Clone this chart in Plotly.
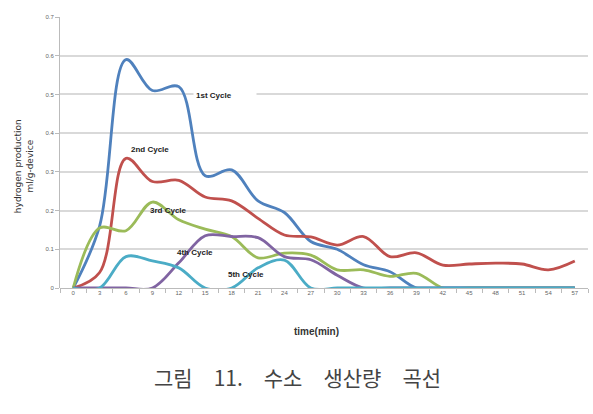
import plotly.graph_objects as go

time_min = [0, 3, 6, 9, 12, 15, 18, 21, 24, 27, 30, 33, 36, 39, 42, 45, 48, 51, 54, 57]
cycle1 = [0, 0.16, 0.59, 0.51, 0.52, 0.29, 0.305, 0.225, 0.195, 0.12, 0.1, 0.06, 0.042, 0, 0, 0, 0, 0, 0, 0]
cycle2 = [0, 0.04, 0.335, 0.275, 0.278, 0.235, 0.225, 0.18, 0.137, 0.132, 0.111, 0.133, 0.081, 0.091, 0.059, 0.062, 0.064, 0.062, 0.047, 0.07]
cycle3 = [0, 0.155, 0.148, 0.222, 0.176, 0.152, 0.133, 0.078, 0.09, 0.085, 0.047, 0.047, 0.03, 0.038, 0, 0, 0, 0, 0, 0]
cycle4 = [0, 0, 0, 0, 0.065, 0.135, 0.133, 0.13, 0.081, 0.073, 0.033, 0, 0, 0, 0, 0, 0, 0, 0, 0]
cycle5 = [0, 0, 0.081, 0.07, 0.052, 0, 0, 0.052, 0.072, 0, 0, 0, 0, 0, 0, 0, 0, 0, 0, 0]

names = ["1st Cycle", "2nd Cycle", "3rd Cycle", "4th Cycle", "5th Cycle"]
colors = ["#4F81BD", "#C0504D", "#9BBB59", "#8064A2", "#4BACC6"]
series = [cycle1, cycle2, cycle3, cycle4, cycle5]

y_ticks = [0, 0.1, 0.2, 0.3, 0.4, 0.5, 0.6, 0.7]
y_tick_text = ["0", "0.1", "0.2", "0.3", "0.4", "0.5", "0.6", "0.7"]

fig = go.Figure()
for name, col, vals in zip(names, colors, series):
    fig.add_trace(go.Scatter(
        x=time_min, y=vals, mode="lines", name=name,
        line=dict(color=col, width=2.8, shape="spline", smoothing=1.0),
        cliponaxis=False,
    ))

label_font = dict(family="Liberation Sans Narrow, Arial Narrow, sans-serif", size=8, color="#222")
# 1st Cycle label sits in a white box that interrupts the 0.5 gridline
fig.add_annotation(
    x=13.6, y=0.496, xanchor="left", yanchor="middle", text="<b>1st Cycle</b>",
    showarrow=False, font=label_font, bgcolor="white", width=58, align="left", borderpad=2,
)
labels = [
    ("2nd Cycle", 8.7, 0.357),
    ("3rd Cycle", 10.8, 0.2),
    ("4th Cycle", 13.8, 0.093),
    ("5th Cycle", 19.6, 0.036),
]
for txt, lx, ly in labels:
    fig.add_annotation(
        x=lx, y=ly, text="<b>" + txt + "</b>", showarrow=False,
        xanchor="center", yanchor="middle", font=label_font,
    )

fig.add_annotation(
    xref="paper", yref="paper", x=-0.068, y=0.45, xanchor="center", yanchor="middle",
    text="hydrogen production<br>ml/g-device", textangle=-90, showarrow=False,
    font=dict(family="DejaVu Sans, sans-serif", size=9, color="#333"),
)
fig.add_annotation(
    xref="paper", yref="paper", x=0.485, y=-0.162, xanchor="center", yanchor="middle",
    text="<b>time(min)</b>", showarrow=False,
    font=dict(family="Liberation Sans Narrow, Arial Narrow, sans-serif", size=10, color="#333"),
)
fig.add_annotation(
    xref="paper", yref="paper", x=0.45, y=-0.33, xanchor="center", yanchor="middle",
    text="그림\u300011.\u3000수소\u3000생산량\u3000곡선", showarrow=False,
    font=dict(family="Noto Sans CJK KR", size=21, color="#444"),
)

fig.update_layout(
    width=593, height=414,
    margin=dict(l=60, r=5, t=17, b=126),
    paper_bgcolor="white", plot_bgcolor="white",
    showlegend=False,
    xaxis=dict(
        range=[-1.5, 58.5], tickvals=time_min, ticktext=[str(t) for t in time_min],
        ticks="", showgrid=False, zeroline=False,
        showline=False,
        tickfont=dict(family="Liberation Sans Narrow, sans-serif", size=6, color="#666"),
        minor=dict(ticks="outside", tick0=-1.5, dtick=3, ticklen=4, tickcolor="#bbb", showgrid=False),
        fixedrange=True,
    ),
    yaxis=dict(
        range=[0, 0.7], tickvals=y_ticks, ticktext=y_tick_text,
        showgrid=True, gridcolor="#d9d9d9", gridwidth=1.5,
        zeroline=True, zerolinecolor="#bbb", zerolinewidth=1,
        showline=True, linecolor="#bbb", linewidth=1,
        ticks="outside", ticklen=4, tickcolor="#bbb",
        tickfont=dict(family="Liberation Sans Narrow, sans-serif", size=6, color="#666"),
        fixedrange=True,
    ),
)

fig.write_html("out.html")
